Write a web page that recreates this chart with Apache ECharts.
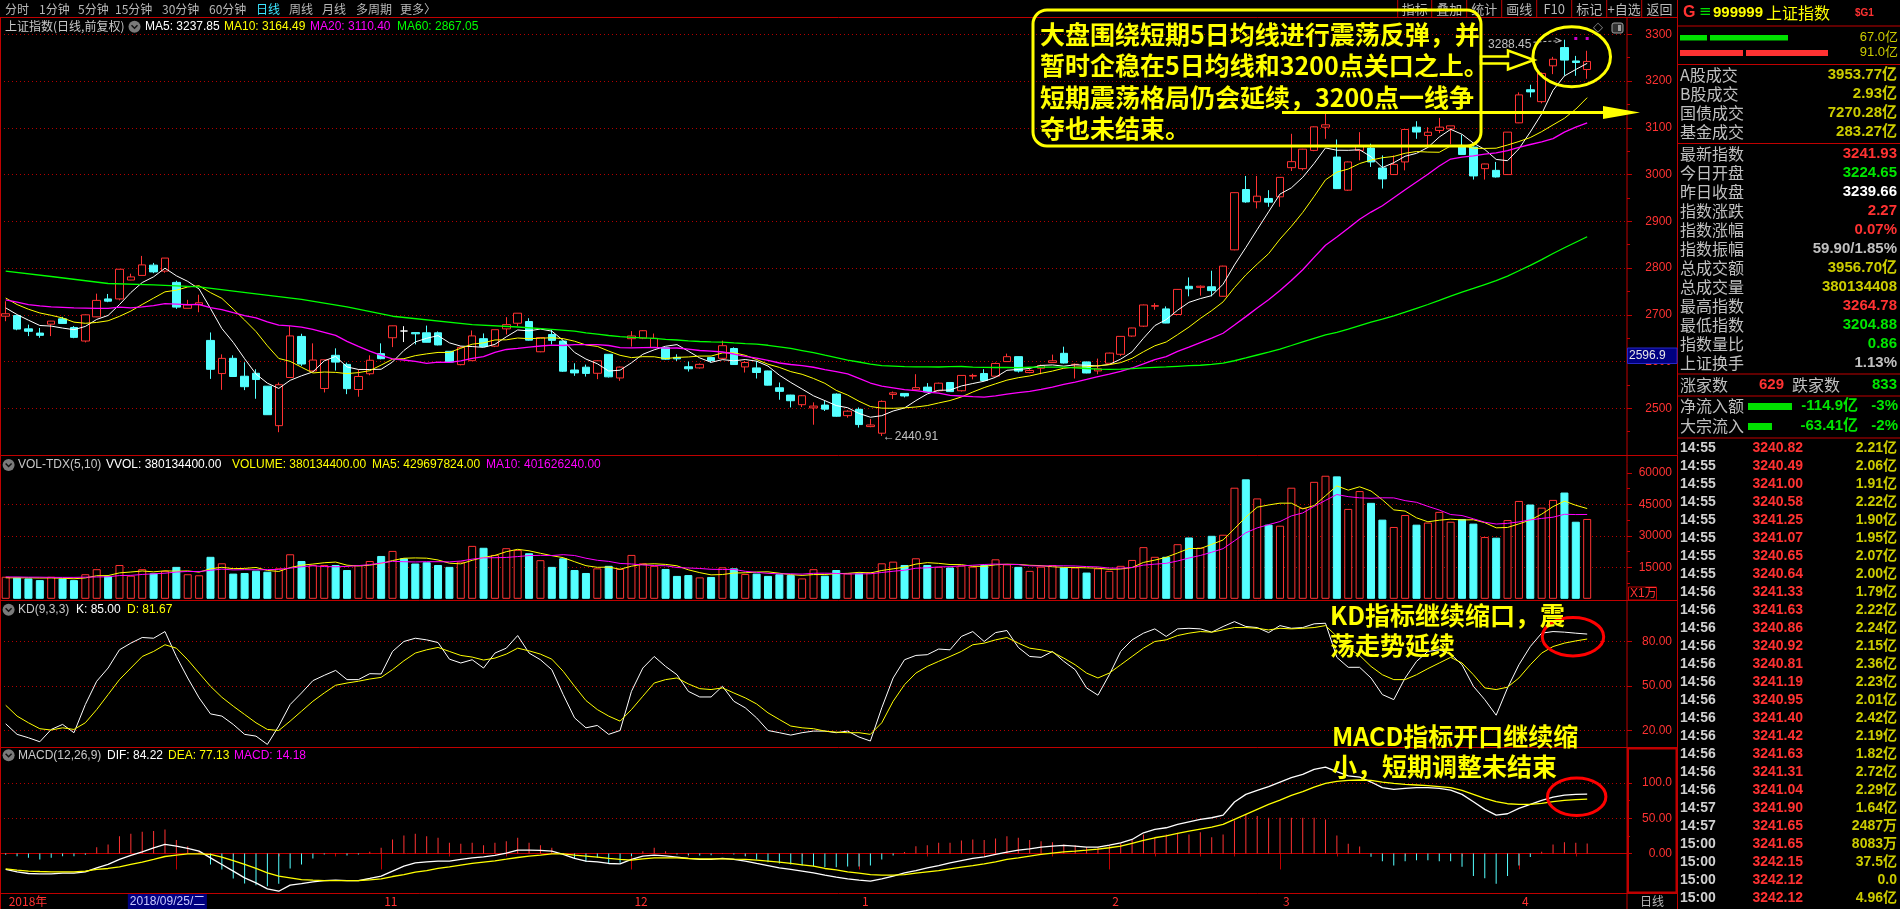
<!DOCTYPE html>
<html lang="zh-CN">
<head>
<meta charset="utf-8">
<title>上证指数 日线</title>
<script src="https://cdn.jsdelivr.net/npm/echarts@6.0.0/dist/echarts.min.js"></script>
<style>
html,body{margin:0;padding:0;background:#000;overflow:hidden;}
#chart{width:1900px;height:909px;}
</style>
</head>
<body>
<div id="chart"></div>
<script>
// ---------- trading days ----------
const dates = [
'2018/09/07','2018/09/10','2018/09/11','2018/09/12','2018/09/13','2018/09/14','2018/09/17','2018/09/18','2018/09/19','2018/09/20','2018/09/21','2018/09/25','2018/09/26','2018/09/27','2018/09/28',
'2018/10/08','2018/10/09','2018/10/10','2018/10/11','2018/10/12','2018/10/15','2018/10/16','2018/10/17','2018/10/18','2018/10/19','2018/10/22','2018/10/23','2018/10/24','2018/10/25','2018/10/26','2018/10/29','2018/10/30','2018/10/31',
'2018/11/01','2018/11/02','2018/11/05','2018/11/06','2018/11/07','2018/11/08','2018/11/09','2018/11/12','2018/11/13','2018/11/14','2018/11/15','2018/11/16','2018/11/19','2018/11/20','2018/11/21','2018/11/22','2018/11/23','2018/11/26','2018/11/27','2018/11/28','2018/11/29','2018/11/30',
'2018/12/03','2018/12/04','2018/12/05','2018/12/06','2018/12/07','2018/12/10','2018/12/11','2018/12/12','2018/12/13','2018/12/14','2018/12/17','2018/12/18','2018/12/19','2018/12/20','2018/12/21','2018/12/24','2018/12/25','2018/12/26','2018/12/27','2018/12/28',
'2019/01/02','2019/01/03','2019/01/04','2019/01/07','2019/01/08','2019/01/09','2019/01/10','2019/01/11','2019/01/14','2019/01/15','2019/01/16','2019/01/17','2019/01/18','2019/01/21','2019/01/22','2019/01/23','2019/01/24','2019/01/25','2019/01/28','2019/01/29','2019/01/30','2019/01/31',
'2019/02/01','2019/02/11','2019/02/12','2019/02/13','2019/02/14','2019/02/15','2019/02/18','2019/02/19','2019/02/20','2019/02/21','2019/02/22','2019/02/25','2019/02/26','2019/02/27','2019/02/28',
'2019/03/01','2019/03/04','2019/03/05','2019/03/06','2019/03/07','2019/03/08','2019/03/11','2019/03/12','2019/03/13','2019/03/14','2019/03/15','2019/03/18','2019/03/19','2019/03/20','2019/03/21','2019/03/22','2019/03/25','2019/03/26','2019/03/27','2019/03/28','2019/03/29',
'2019/04/01','2019/04/02','2019/04/03','2019/04/04','2019/04/08','2019/04/09','2019/04/10'
];
// empty slots kept at the right edge of the price area
const padDays = ['2019/04/11','2019/04/12','2019/04/15'];

// ---------- index OHLC ----------
const openP = [
2697.1,2698.5,2670.0,2661.0,2680.0,2691.4,2673.0,2644.0,2695.7,2734.0,
2734.0,2774.4,2784.3,2806.3,2793.5,2769.4,2714.0,2722.0,2645.3,2574.4,
2607.0,2568.7,2575.0,2547.4,2463.0,2566.0,2653.8,2580.0,2542.5,2613.4,
2594.0,2540.3,2574.0,2617.0,2651.0,2665.4,2662.0,2661.6,2661.6,2622.0,
2593.5,2602.0,2649.0,2633.0,2670.0,2682.0,2685.7,2621.0,2658.0,2644.0,
2582.0,2588.0,2575.0,2615.6,2565.0,2649.0,2650.0,2630.0,2629.8,2609.0,
2589.0,2586.5,2608.5,2607.0,2628.0,2588.6,2586.5,2580.0,2544.0,2528.4,
2507.8,2501.0,2507.0,2530.5,2484.4,2497.9,2461.0,2446.8,2529.8,2531.9,
2539.7,2545.4,2537.6,2555.3,2537.6,2569.0,2574.4,2568.8,2600.0,2610.6,
2576.6,2585.8,2597.9,2617.7,2593.6,2599.3,2580.1,2596.4,2615.6,2654.6,
2675.8,2718.4,2712.7,2700.7,2761.0,2758.8,2760.0,2739.7,2839.0,2968.0,
2941.8,2948.9,2952.4,3014.8,3012.7,3051.7,3101.4,3037.5,2966.6,3051.7,
3056.7,3014.1,3000.0,3027.0,3101.4,3083.6,3094.3,3097.8,3058.8,3058.8,
3012.7,3009.0,3000.0,3110.6,3181.5,3156.0,3232.6,3271.6,3243.0,3224.65
];
const closeP = [
2702.3,2669.5,2664.8,2656.1,2686.6,2681.6,2651.8,2700.0,2730.9,2729.2,
2797.5,2781.1,2806.8,2791.8,2821.4,2716.5,2721.0,2725.8,2583.5,2606.9,
2568.1,2546.3,2561.6,2486.4,2550.5,2654.9,2594.8,2603.3,2603.8,2598.9,
2542.1,2568.1,2602.8,2606.2,2676.5,2665.4,2659.4,2641.3,2635.6,2598.9,
2630.5,2654.9,2632.2,2668.2,2679.1,2703.5,2645.9,2651.5,2645.4,2579.5,
2575.8,2574.7,2601.7,2567.4,2588.2,2654.8,2666.0,2649.8,2605.2,2605.9,
2584.6,2594.1,2602.2,2634.0,2593.7,2598.0,2576.7,2549.6,2536.3,2516.3,
2527.0,2504.8,2498.3,2483.1,2493.9,2465.3,2464.4,2514.9,2533.1,2526.5,
2544.3,2535.1,2553.8,2535.8,2570.4,2570.3,2559.6,2596.0,2610.5,2579.7,
2581.0,2591.7,2601.7,2597.0,2594.3,2575.6,2584.6,2618.2,2653.9,2671.9,
2721.1,2719.7,2682.4,2754.4,2755.7,2761.2,2751.8,2804.2,2961.3,2941.5,
2953.8,2941.0,2994.0,3027.6,3054.3,3102.1,3106.4,2969.9,3027.0,3060.3,
3027.0,2990.7,3021.8,3096.4,3091.0,3090.6,3101.5,3104.2,3043.0,2997.1,
3022.7,2994.9,3090.8,3170.4,3176.8,3216.3,3246.6,3244.8,3239.7,3241.93
];
const lowP = [
2686.4,2667.0,2654.5,2651.0,2654.5,2681.0,2650.0,2641.0,2695.0,2727.0,
2731.0,2774.0,2784.0,2789.0,2790.0,2712.7,2714.0,2705.6,2563.0,2539.6,
2567.0,2539.0,2520.5,2486.0,2449.0,2566.0,2590.7,2578.0,2534.0,2580.8,
2530.4,2524.8,2570.8,2604.9,2631.0,2641.8,2636.8,2641.0,2634.7,2598.0,
2592.0,2602.0,2631.8,2631.0,2658.0,2675.8,2645.0,2620.0,2636.8,2578.0,
2569.5,2568.0,2562.4,2566.0,2558.8,2632.0,2648.0,2630.0,2604.0,2601.4,
2578.7,2585.0,2598.0,2605.0,2593.0,2576.6,2563.8,2549.0,2518.4,2502.0,
2502.8,2465.0,2494.3,2482.0,2480.0,2458.9,2459.6,2440.91,2519.8,2523.4,
2539.0,2535.0,2536.0,2535.0,2536.0,2562.0,2559.0,2567.0,2600.0,2576.6,
2575.0,2573.0,2597.0,2596.0,2563.8,2575.0,2573.0,2596.0,2612.0,2653.0,
2674.0,2711.0,2682.0,2700.0,2739.6,2741.0,2739.6,2739.0,2838.0,2939.7,
2927.6,2931.0,2931.2,3007.7,3009.0,3050.0,3076.5,2969.0,2965.0,3030.4,
3016.3,2970.0,2999.0,3009.0,3076.5,3060.2,3088.6,3064.5,3043.0,2989.3,
2989.3,2993.6,2999.0,3110.0,3165.2,3152.4,3214.8,3211.3,3211.3,3204.88
];
const highP = [
2729.0,2700.0,2679.0,2672.0,2687.0,2695.7,2676.0,2701.0,2745.3,2744.6,
2798.0,2788.0,2826.0,2811.0,2821.4,2772.9,2732.0,2743.0,2662.3,2615.5,
2613.4,2598.5,2583.6,2547.4,2555.2,2675.8,2659.5,2639.0,2604.0,2628.3,
2597.8,2583.6,2613.4,2639.0,2677.0,2675.8,2662.0,2677.0,2664.5,2622.0,
2632.5,2666.6,2660.2,2668.2,2695.0,2703.5,2692.8,2652.4,2668.7,2645.0,
2596.4,2593.6,2602.8,2616.0,2589.4,2665.2,2667.0,2660.0,2630.0,2615.6,
2600.0,2596.0,2609.0,2644.7,2630.5,2601.0,2601.4,2580.5,2555.3,2529.0,
2528.4,2512.8,2516.0,2532.0,2496.0,2502.0,2477.3,2517.0,2536.0,2532.0,
2573.0,2554.0,2555.0,2556.0,2571.0,2574.0,2583.7,2598.0,2617.0,2611.0,
2584.5,2593.6,2614.9,2631.9,2596.0,2600.0,2606.4,2619.0,2654.6,2672.3,
2722.0,2725.0,2718.0,2755.0,2780.0,2763.0,2794.3,2805.0,2962.0,2997.0,
2997.0,2966.6,2994.0,3087.2,3055.0,3103.0,3129.6,3075.1,3028.0,3090.7,
3065.9,3041.0,3041.0,3097.0,3114.1,3101.4,3121.2,3104.2,3085.0,3060.0,
3023.3,3027.0,3091.0,3175.8,3192.1,3218.4,3251.7,3288.45,3253.8,3264.78
];

// ---------- moving averages of the close ----------
const ma5 = [
2714.8,2700.6,2688.6,2677.2,2675.9,2671.7,2668.2,2675.2,2690.2,2698.7,
2721.9,2747.7,2769.1,2781.3,2799.7,2783.5,2771.5,2755.3,2713.6,2670.7,
2641.1,2606.1,2573.3,2553.9,2542.6,2559.9,2569.6,2578.0,2601.5,2611.1,
2588.6,2583.2,2583.1,2583.6,2599.1,2623.8,2642.1,2649.8,2655.6,2640.1,
2633.1,2632.2,2630.4,2636.9,2653.0,2667.6,2665.8,2669.6,2665.1,2645.2,
2619.6,2605.4,2595.4,2579.8,2581.6,2597.4,2615.6,2625.2,2632.8,2636.3,
2622.3,2607.9,2598.4,2604.2,2601.7,2604.4,2600.9,2590.4,2570.9,2555.4,
2541.2,2526.8,2516.5,2505.9,2501.4,2489.1,2481.0,2484.3,2494.3,2500.8,
2516.6,2530.8,2538.6,2539.1,2547.9,2553.1,2558.0,2566.4,2581.4,2583.2,
2585.4,2591.8,2592.9,2590.2,2593.1,2592.1,2590.6,2593.9,2605.3,2620.8,
2649.9,2677.0,2689.8,2709.9,2726.7,2734.7,2741.1,2765.5,2806.8,2844.0,
2882.5,2920.4,2958.3,2971.6,2994.1,3023.8,3056.9,3052.1,3051.9,3053.1,
3038.1,3015.0,3025.4,3039.2,3045.4,3058.1,3080.3,3096.7,3086.1,3067.3,
3053.7,3032.4,3029.7,3055.2,3091.1,3129.8,3180.2,3211.0,3224.8,3237.85
];
const ma10 = [
2736,2722,2712,2704,2699,2693.3,2684.4,2681.9,2683.7,2687.3,
2696.8,2708.0,2722.2,2735.8,2749.2,2752.7,2759.6,2762.2,2747.5,2735.2,
2712.3,2688.8,2664.3,2633.8,2606.7,2600.5,2587.9,2575.7,2577.7,2576.9,
2574.3,2576.4,2580.6,2592.6,2605.1,2606.2,2612.7,2616.5,2619.6,2619.6,
2628.5,2637.2,2640.1,2646.3,2646.6,2650.4,2649.0,2650.0,2651.0,2649.1,
2643.6,2635.6,2632.5,2622.5,2613.4,2608.5,2610.5,2610.3,2606.3,2609.0,
2609.9,2611.8,2611.8,2618.5,2619.0,2613.4,2604.4,2594.4,2587.6,2578.6,
2572.8,2563.9,2553.5,2538.4,2528.4,2515.2,2503.9,2500.4,2500.1,2501.1,
2502.9,2505.9,2511.5,2516.7,2524.4,2534.9,2544.4,2552.5,2560.3,2565.6,
2569.3,2574.9,2579.7,2585.8,2588.2,2588.8,2591.2,2593.4,2597.8,2607.0,
2621.0,2633.8,2641.9,2657.6,2673.8,2692.3,2709.1,2727.7,2758.4,2785.4,
2808.6,2830.8,2861.9,2889.2,2919.1,2953.2,2988.7,3005.2,3011.8,3023.6,
3031.0,3036.0,3038.8,3045.6,3049.3,3048.1,3047.7,3061.1,3062.7,3056.4,
3055.9,3056.4,3063.2,3070.7,3079.2,3091.8,3106.3,3120.4,3140.0,3164.49
];
const ma20 = [
2732,2727,2722,2719,2717,2716,2715,2714.5,2714,2714,
2716.4,2715.0,2717.1,2719.9,2724.1,2723.0,2722.0,2722.1,2715.6,2711.3,
2704.6,2698.4,2693.3,2684.8,2678.0,2676.6,2673.8,2669.0,2662.6,2656.1,
2643.3,2632.6,2622.5,2613.2,2605.9,2603.4,2600.3,2596.1,2598.7,2598.3,
2601.4,2606.8,2610.4,2619.5,2625.9,2628.3,2630.9,2633.3,2635.3,2634.4,
2636.1,2636.4,2636.3,2634.4,2630.0,2629.5,2629.8,2630.2,2628.7,2629.1,
2626.8,2623.7,2622.2,2620.5,2616.2,2611.0,2607.5,2602.4,2597.0,2593.8,
2591.4,2587.9,2582.7,2578.5,2573.7,2564.3,2554.2,2547.4,2543.9,2539.9,
2537.9,2534.9,2532.5,2527.6,2526.4,2525.1,2524.2,2526.5,2530.2,2533.4,
2536.1,2540.4,2545.6,2551.3,2556.3,2561.9,2567.8,2573.0,2579.1,2586.3,
2595.2,2604.4,2610.8,2621.7,2631.0,2640.6,2650.2,2660.6,2678.1,2696.2,
2714.8,2732.3,2751.9,2773.4,2796.5,2822.8,2848.9,2866.5,2885.1,2904.5,
2919.8,2933.4,2950.4,2967.4,2984.2,3000.7,3018.2,3033.2,3037.3,3040.0,
3043.5,3046.2,3051.0,3058.2,3064.3,3070.0,3077.0,3090.8,3101.4,3110.40
];
const ma60 = [
2793.5,null,null,null,2782,null,null,null,null,2767,
null,null,null,2764,null,null,null,2760,null,null,
null,null,2745,null,null,null,2733,null,null,null,
2717,null,null,null,2697,null,null,null,null,null,
null,2679,null,null,null,2674,null,null,2669,null,
2665.3,2661.3,2658.6,2655.8,2653.3,2652.0,2650.7,2649.5,2647.7,2646.2,
2644.3,2643.0,2642.0,2641.6,2640.0,2638.6,2637.4,2634.9,2631.6,2628.1,
2623.6,2619.0,2613.8,2608.7,2603.2,2599.1,2594.8,2591.2,2590.4,2589.1,
2588.7,2588.5,2588.4,2589.2,2589.5,2588.1,2587.5,2587.4,2587.5,2587.2,
2587.9,2588.2,2588.2,2588.1,2586.7,2585.2,2583.9,2583.5,2583.9,2585.1,
2586.6,2587.7,2588.5,2589.9,2591.2,2592.2,2594.0,2596.5,2601.8,2607.8,
2614.1,2620.2,2626.7,2634.4,2642.2,2649.7,2657.0,2662.3,2669.4,2676.9,
2684.3,2690.9,2697.9,2705.6,2713.9,2722.1,2730.9,2740.1,2748.5,2756.5,
2764.8,2773.0,2782.8,2794.3,2805.7,2818.2,2831.2,2843.4,2855.2,2867.05
];
// days carrying the small magenta signal marks
const signalDays = [138, 139];

// ---------- volume (x 10,000 shares) ----------
const vol = [
10500,10100,9700,8900,10500,9700,8900,11700,14100,10900,
16100,11000,14100,12100,13300,15200,11700,11200,20000,16900,
12000,12300,13400,12900,14500,21200,18000,16100,16100,16100,
13700,16100,18000,20400,22800,19300,16800,17400,16100,15200,
17700,25200,24300,20900,24100,23300,21700,18400,15200,19300,
13700,12300,14500,15700,14200,20900,16900,15700,14200,10900,
11300,10200,10400,15000,14500,11800,12000,10900,11700,11300,
9700,14100,11000,13700,12100,12100,12600,16900,17700,16100,
19300,16100,15200,14900,15800,15300,16100,18800,16400,15200,
13300,15300,16100,14900,14900,12500,14500,13300,15700,18500,
24600,20000,20000,26000,29200,24400,30000,30500,52900,56900,
47800,35300,34800,52900,43300,55700,58600,58300,42800,51300,
45700,37700,34200,39900,35300,36300,41400,36700,38000,35800,
29400,29100,37500,46600,44900,43400,47100,50600,36700,38013.44
];
const vma5 = [
10000,10000,10000,9900,9940,9780,9540,9940,10980,11060,
12340,12760,13240,12840,13320,13140,13280,12700,14280,15000,
14360,14480,14920,13500,13020,14860,16000,16540,17180,17500,
16000,15620,16000,16860,18200,19320,19460,19340,18480,16960,
16640,18320,19700,20660,22440,23560,22860,21680,20540,19580,
17660,15780,15000,15100,14080,15520,16440,16680,16380,15720,
13800,12460,11400,11560,12280,12380,12740,12840,12180,11540,
11120,11540,11560,11960,12120,12600,12300,13480,14280,15080,
16520,17220,16880,16320,16260,15460,15460,16180,16480,16360,
15960,15800,15260,14960,14900,14740,14580,14020,14180,14900,
17320,18420,19760,21820,23960,23920,25920,28020,33400,38940,
43620,44680,45540,45540,42820,44400,49060,53760,51740,53340,
51340,47160,42340,41760,38560,36680,37420,37920,37540,37640,
36260,33800,33960,35680,37500,40300,43900,46520,44540,42969.7824
];
const vma10 = [
10400,10400,10300,10300,10200,10200,10200,10300,10400,10500,
11060,11150,11590,11910,12190,12740,13020,12970,13560,14160,
13750,13880,13810,13890,14010,14610,15240,15730,15340,15260,
15430,15810,16270,17020,17850,17660,17540,17670,17670,17580,
17980,18890,19520,19570,19700,20100,20590,20690,20600,21010,
20610,19320,18340,17820,16830,16590,16110,15840,15740,14900,
14660,14450,14040,13970,14000,13090,12600,12120,11870,11910,
11750,12140,12200,12070,11830,11860,11920,12520,13120,13600,
14560,14760,15180,15300,15670,15990,16340,16530,16400,16310,
15710,15630,15720,15720,15630,15350,15190,14640,14570,14900,
16030,16500,16890,18000,19430,20620,22170,23890,27610,31450,
33770,35300,36780,39470,40880,44010,46870,49650,48640,48080,
47870,48110,48050,46750,45950,44010,42290,40130,39650,38100,
36470,35610,35940,36610,37570,38280,38850,40240,40110,40162.624
];

// ---------- KD(9,3,3) ----------
const kLine = [
24.5,17.4,15.1,12.4,20.7,24.1,18.5,37.5,53.2,62.1,
74.4,78.9,82.7,82.2,86.7,69.9,55.4,42.0,31.2,29.7,
24.1,17.4,16.2,10.6,23.0,37.5,45.3,53.6,57.2,60.5,
54.3,54.3,58.3,58.1,73.3,80.0,82.2,81.1,79.3,68.1,
65.5,67.7,62.1,72.2,75.5,84.0,72.2,67.7,61.0,44.2,
28.5,21.8,23.4,17.4,20.0,46.4,62.1,69.9,63.2,57.6,
46.4,42.6,42.6,49.8,39.7,35.3,28.5,20.0,18.5,16.9,
18.5,19.6,19.6,18.5,19.6,15.6,12.9,35.3,55.4,67.7,
70.6,71.1,74.9,74.4,83.4,86.7,80.0,86.0,87.4,76.0,
69.9,69.3,73.3,66.6,61.0,48.7,43.8,57.6,73.3,81.1,
85.6,88.5,83.4,88.5,88.9,88.5,86.3,90.1,93.4,90.1,
89.4,86.0,90.7,88.9,89.4,91.9,92.3,69.3,62.6,62.6,
55.4,44.2,40.8,55.4,66.6,73.3,74.4,71.5,64.3,49.8,
40.8,30.3,48.7,64.3,76.6,85.6,86.7,86.3,85.6,85.00
];
const dLine = [
37.0,29.7,25.2,21.2,20.3,21.8,20.7,25.2,34.1,44.2,
54.3,62.1,69.9,73.3,77.8,75.5,67.7,58.7,49.8,42.4,
36.4,30.8,25.2,20.7,20.0,26.3,33.0,39.7,45.3,50.5,
52.0,53.2,54.7,55.8,61.0,67.0,72.2,74.4,76.0,73.3,
70.6,69.5,67.5,68.8,71.5,75.5,73.7,71.5,68.1,59.9,
49.8,40.2,34.1,29.7,26.3,34.1,43.1,52.0,54.3,55.4,
51.4,48.2,47.6,48.7,45.3,42.0,37.9,31.9,27.4,23.0,
21.8,21.2,19.6,18.9,18.5,18.5,17.4,25.2,39.7,50.9,
58.7,63.2,66.6,69.9,73.3,77.8,78.9,81.1,82.7,78.9,
75.5,74.4,72.8,68.8,64.3,58.7,55.4,58.7,64.3,69.9,
75.5,80.0,81.1,84.0,85.6,86.7,86.3,87.8,89.4,89.4,
88.9,87.8,88.9,88.5,88.9,89.4,90.7,83.4,75.5,70.6,
63.2,57.6,54.3,54.3,57.6,61.7,65.5,69.3,65.5,57.6,
48.7,47.6,49.2,55.4,64.3,72.2,76.6,78.9,80.4,81.67
];

// ---------- MACD(12,26,9) ----------
const dif = [
-22.7,-26.0,-28.4,-28.9,-28.9,-28.0,-28.0,-26.0,-20.4,-15.6,
-8.5,-2.8,2.4,8.1,12.8,10.4,7.1,3.3,-6.2,-15.6,
-25.1,-34.6,-41.7,-50.2,-53.6,-45.0,-42.7,-40.3,-38.4,-37.9,
-38.4,-38.4,-35.5,-32.2,-25.1,-18.0,-13.3,-11.8,-10.9,-10.9,
-8.5,-6.2,-4.7,-2.8,0.5,4.7,4.7,4.3,3.3,-1.4,
-7.1,-10.9,-11.8,-14.2,-14.7,-8.5,-3.8,-2.4,-3.3,-5.2,
-7.1,-8.5,-8.5,-7.1,-8.5,-10.9,-14.2,-17.1,-20.4,-22.7,
-25.1,-27.5,-30.8,-33.6,-36.0,-37.9,-39.3,-36.0,-32.2,-27.5,
-24.2,-20.4,-17.1,-13.3,-10.0,-7.1,-4.7,-1.4,1.9,4.7,
6.6,9.0,10.4,11.4,10.4,9.0,9.0,11.8,15.2,19.9,
29.4,34.1,36.5,41.2,45.0,48.3,50.7,54.5,73.0,83.9,
89.6,94.8,101.4,107.6,112.3,119.4,122.7,116.1,110.0,108.5,
101.4,93.4,91.0,92.4,93.4,93.4,92.4,90.0,83.9,73.5,
62.6,54.5,56.4,64.0,69.7,75.4,80.1,82.9,83.9,84.22
];
const dea = [
-21.8,-23.5,-25.1,-25.6,-26.0,-26.0,-26.0,-25.1,-22.7,-21.3,
-19.0,-15.6,-12.3,-8.5,-4.3,-2.4,-0.5,-0.5,-1.4,-5.2,
-10.0,-15.6,-21.3,-27.5,-32.2,-34.6,-37.0,-37.9,-38.4,-38.4,
-38.4,-38.4,-37.4,-36.0,-32.7,-29.9,-26.5,-24.2,-21.3,-19.0,
-16.6,-14.2,-12.3,-10.4,-8.1,-5.7,-3.8,-2.4,-0.5,-0.5,
-2.4,-3.8,-5.2,-7.1,-8.5,-9.5,-7.6,-6.2,-6.2,-6.2,
-7.1,-7.6,-7.6,-7.6,-8.1,-8.5,-9.5,-10.9,-12.3,-14.2,
-16.1,-18.0,-21.3,-23.2,-26.1,-28.0,-29.9,-30.8,-30.8,-29.9,
-28.0,-26.1,-24.2,-21.8,-19.4,-17.1,-14.7,-11.8,-8.5,-6.2,
-3.8,-1.4,0.5,2.4,3.3,4.7,6.2,8.1,10.4,14.2,
18.5,22.3,25.1,28.4,31.8,34.6,37.4,41.2,48.3,55.5,
62.6,69.7,75.8,82.5,87.7,94.3,99.5,102.4,103.8,104.3,
103.8,101.4,99.5,98.1,97.2,96.2,94.8,93.4,89.6,83.9,
78.2,73.5,70.6,69.7,69.7,71.1,73.5,75.4,76.3,77.13
];
const macd = [
-1.8,-3.8,-6.0,-8.5,-6.0,-3.8,-3.8,-1.8,9.0,12.8,
24.6,28.0,30.8,31.8,34.1,19.0,10.4,3.3,-15.6,-22.7,
-35.5,-42.7,-45.0,-46.4,-43.1,-21.3,-15.6,-7.1,-1.4,0.8,
-2.8,-1.4,2.4,8.1,19.9,25.6,28.0,24.6,22.3,15.2,
13.7,15.2,11.8,15.2,17.5,22.3,15.2,11.8,8.1,-1.4,
-7.1,-11.8,-6.2,-14.7,-13.3,-3.8,3.3,8.1,3.3,-1.4,
-2.4,-2.8,-2.4,0.5,-1.4,-3.8,-8.5,-12.3,-14.2,-15.6,
-17.0,-18.0,-19.4,-19.4,-18.5,-18.5,-17.0,-8.5,-2.8,2.0,
10.4,11.8,15.2,15.2,18.5,19.9,19.0,21.3,24.6,22.3,
19.0,17.5,16.1,12.8,11.8,9.0,9.0,11.8,14.2,19.0,
27.0,23.2,27.0,29.4,27.0,30.3,23.2,27.0,46.9,55.5,
53.1,50.7,50.7,50.7,50.7,50.7,48.3,25.6,13.7,10.0,
-4.8,-11.0,-17.0,-11.0,-9.5,-9.5,-11.0,-11.0,-19.0,-32.0,
-35.0,-43.0,-32.0,-17.0,-5.0,2.4,12.8,16.1,15.2,14.18
];

// ---------- axis tick values ----------
const volTickValues = [15000, 30000, 45000, 60000];
const volMinorTicks = [7500, 22500, 37500, 52500];
const kdTickValues = [20, 50, 80];
const macdTickValues = [0, 50, 100];
const macdMinorTicks = [25, 75];

// ---------- quote panel ----------
const turnoverRows = [['A股成交', '3953.77亿'], ['B股成交', '2.93亿'], ['国债成交', '7270.28亿'], ['基金成交', '283.27亿']];
const tickTimes = ['14:55','14:55','14:55','14:55','14:55','14:55','14:55','14:55','14:56','14:56','14:56','14:56','14:56','14:56','14:56','14:56','14:56','14:56','14:56','14:56','14:57','14:57','15:00','15:00','15:00','15:00'];
const tickPrices = ['3240.82','3240.49','3241.00','3240.58','3241.25','3241.07','3240.65','3240.64','3241.33','3241.63','3240.86','3240.92','3240.81','3241.19','3240.95','3241.40','3241.42','3241.63','3241.31','3241.04','3241.90','3241.65','3241.65','3242.15','3242.12','3242.12'];
const tickAmounts = ['2.21亿','2.06亿','1.91亿','2.22亿','1.90亿','1.95亿','2.07亿','2.00亿','1.79亿','2.22亿','2.24亿','2.15亿','2.36亿','2.23亿','2.01亿','2.42亿','2.19亿','1.82亿','2.72亿','2.29亿','1.64亿','2487万','8083万','37.5亿','0.0','4.96亿'];

// ================= drawing =================
const N = dates.length;
const cats = dates.concat(padDays);
const RED = '#ff3232', CYAN = '#54ffff', GREEN = '#00e600', YEL = '#ffff00', OLIVE = '#cccc00',
      GRAY = '#c0c0c0', FRAME = '#c00000', DOT = '#b40000', MAG = '#ff00ff';
const NUM = '"Liberation Sans", "DejaVu Sans", "Noto Sans CJK SC", sans-serif';
const CN = '"Noto Sans CJK SC", "Noto Sans", sans-serif';

const isDoji = i => openP[i] === closeP[i];
const isUp = i => closeP[i] > openP[i] || (isDoji(i) && (i === 0 || closeP[i] >= closeP[i - 1]));

const kData = dates.map((d, i) => {
  const item = { value: [openP[i], closeP[i], lowP[i], highP[i]] };
  if (isDoji(i)) item.itemStyle = { color: '#fff', color0: '#fff', borderColor: '#fff', borderColor0: '#fff' };
  return item;
});
const volData = vol.map((v, i) => ({
  value: v,
  itemStyle: isUp(i) ? { color: '#000', borderColor: RED, borderWidth: 1 } : { color: CYAN, borderColor: CYAN, borderWidth: 1 }
}));
const macdData = macd.map(v => ({ value: v, itemStyle: { color: v >= 0 ? RED : CYAN } }));

// month boundaries and the quarter-month ticks on the date axis
const monthStarts = [];
for (let i = 1; i < N; i++) if (dates[i].slice(5, 7) !== dates[i - 1].slice(5, 7)) monthStarts.push(i);
const monthSet = new Set(monthStarts);
const quarterSet = new Set();
monthStarts.forEach((s, k) => {
  const e = monthStarts[k + 1];
  if (e !== undefined) { for (let q = 1; q < 4; q++) quarterSet.add(s + Math.round(q * (e - s) / 4)); }
  else { for (let j = s + 5; j < N; j += 5) quarterSet.add(j); }
});

const panels = [
  { top: 34.3, height: 420.8 },
  { top: 455.5, height: 143.3 },
  { top: 601, height: 146 },
  { top: 748, height: 145 }
];
const dotted = { show: true, lineStyle: { color: DOT, type: [1, 3], width: 1 } };
const plain = v => String(Math.round(v));
const axisLab = { color: RED, fontSize: 12, fontFamily: NUM, align: 'right', margin: 45, hideOverlap: false };
const tickLine = { color: FRAME, width: 1 };
const hiddenX = gi => ({ type: 'category', gridIndex: gi, data: cats, boundaryGap: true, show: false });

const lineS = (xi, yi, data, color, width, extra) => Object.assign({
  type: 'line', xAxisIndex: xi, yAxisIndex: yi, data, symbol: 'none', showSymbol: false,
  lineStyle: { color, width: width || 1 }, itemStyle: { color }, silent: true, z: 3
}, extra || {});

const chart = echarts.init(document.getElementById('chart'), null, { renderer: 'canvas', width: 1900, height: 909 });

chart.setOption({
  backgroundColor: '#000',
  animation: false,
  textStyle: { fontFamily: NUM },
  grid: panels.map(p => ({ left: 0, width: 1627, top: p.top, height: p.height, containLabel: false, outerBoundsMode: 'none' })),
  xAxis: [
    hiddenX(0), hiddenX(1), hiddenX(2),
    {
      type: 'category', gridIndex: 3, data: cats, boundaryGap: true, position: 'bottom',
      axisLine: { show: true, lineStyle: { color: FRAME, width: 1 } },
      axisTick: { show: true, alignWithLabel: true, length: 16, interval: i => monthSet.has(i), lineStyle: tickLine },
      axisLabel: {
        show: true, interval: i => i === 0 || monthSet.has(i),
        formatter: (v, i) => i === 0 ? v.slice(0, 4) + '年' : String(parseInt(v.slice(5, 7), 10)),
        color: RED, fontSize: 12, fontFamily: CN, align: 'left', margin: 2, padding: [0, 0, 0, 3], hideOverlap: false
      },
      splitLine: { show: false }
    },
    {
      type: 'category', gridIndex: 3, data: cats, boundaryGap: true, position: 'bottom',
      axisLine: { show: false }, axisLabel: { show: false }, splitLine: { show: false },
      axisTick: { show: true, alignWithLabel: true, length: 3, interval: i => quarterSet.has(i), lineStyle: tickLine }
    }
  ],
  yAxis: [
    {
      type: 'value', gridIndex: 0, position: 'right', min: 2400, max: 3300, interval: 100,
      axisLine: { show: false },
      axisTick: { show: true, length: 5, lineStyle: tickLine },
      minorTick: { show: true, splitNumber: 2, length: 3, lineStyle: tickLine },
      minorSplitLine: { show: false },
      axisLabel: Object.assign({}, axisLab, { showMinLabel: false, formatter: plain }),
      splitLine: dotted
    },
    {
      type: 'value', gridIndex: 1, position: 'right', min: 0, max: 68238,
      axisLine: { show: false },
      axisTick: { show: true, length: 5, customValues: volTickValues, lineStyle: tickLine },
      axisLabel: Object.assign({}, axisLab, { customValues: volTickValues, formatter: plain }),
      splitLine: { show: false }
    },
    {
      type: 'value', gridIndex: 1, position: 'right', min: 0, max: 68238,
      axisLine: { show: false }, axisLabel: { show: false }, splitLine: { show: false },
      axisTick: { show: true, length: 3, customValues: volMinorTicks, lineStyle: tickLine }
    },
    {
      type: 'value', gridIndex: 2, position: 'right', min: 8.87, max: 107.3,
      axisLine: { show: false },
      axisTick: { show: true, length: 5, customValues: kdTickValues, lineStyle: tickLine },
      axisLabel: Object.assign({}, axisLab, { customValues: kdTickValues, formatter: v => Number(v).toFixed(2) }),
      splitLine: dotted
    },
    {
      type: 'value', gridIndex: 3, position: 'right', min: -56.1, max: 149.7,
      axisLine: { show: false },
      axisTick: { show: true, length: 5, customValues: macdTickValues, lineStyle: tickLine },
      axisLabel: Object.assign({}, axisLab, { customValues: macdTickValues, formatter: v => (v >= 100 ? Number(v).toFixed(1) : Number(v).toFixed(2)) }),
      splitLine: dotted
    },
    {
      type: 'value', gridIndex: 3, position: 'right', min: -56.1, max: 149.7,
      axisLine: { show: false }, axisLabel: { show: false }, splitLine: { show: false },
      axisTick: { show: true, length: 3, customValues: macdMinorTicks, lineStyle: tickLine }
    }
  ],
  series: [
    {
      type: 'candlestick', xAxisIndex: 0, yAxisIndex: 0, data: kData, barWidth: 8, silent: true, z: 2,
      itemStyle: { color: '#000', color0: CYAN, borderColor: RED, borderColor0: CYAN, borderColorDoji: '#fff', borderWidth: 1 }
    },
    lineS(0, 0, ma5, '#ffffff', 1),
    lineS(0, 0, ma10, '#ffff00', 1),
    lineS(0, 0, ma20, '#ff00ff', 1.3),
    lineS(0, 0, ma60, '#00ff00', 1.3, { connectNulls: true }),
    {
      type: 'scatter', xAxisIndex: 0, yAxisIndex: 0, data: signalDays.map(i => [i, 3291]),
      symbol: 'rect', symbolSize: 3, itemStyle: { color: MAG }, silent: true, z: 4
    },
    {
      type: 'bar', xAxisIndex: 1, yAxisIndex: 1, data: volData, barWidth: 8, silent: true, z: 2,
      markLine: {
        silent: true, z: 1, symbol: ['none', 'none'], label: { show: false }, animation: false,
        lineStyle: { color: DOT, type: [1, 3], width: 1 },
        emphasis: { disabled: true },
        data: volTickValues.slice(0, 3).map(v => ({ yAxis: v }))
      }
    },
    lineS(1, 1, vma5, '#ffff00', 1),
    lineS(1, 1, vma10, '#ff00ff', 1),
    lineS(2, 3, kLine, '#ffffff', 1),
    lineS(2, 3, dLine, '#ffff00', 1),
    { type: 'bar', xAxisIndex: 3, yAxisIndex: 4, data: macdData, barWidth: 1, silent: true, z: 2 },
    lineS(3, 4, dif, '#ffffff', 1.3),
    lineS(3, 4, dea, '#ffff00', 1.3)
  ]
});

// ================= overlay: frames, titles, quote panel, notes =================
const els = [];
function T(x, y, text, fill, size, o) {
  o = o || {};
  const align = o.align || 'left', va = o.va || 'middle';
  els.push({
    type: 'text', silent: true, z: o.z || 60,
    style: { x, y, text, fill, font: (o.bold ? 'bold ' : '') + size + 'px ' + (o.font || NUM),
             textAlign: align, textVerticalAlign: va, align, verticalAlign: va }
  });
}
function Ln(x1, y1, x2, y2, stroke, w, o) {
  o = o || {};
  const style = { stroke, lineWidth: w || 1 };
  if (o.dash) style.lineDash = o.dash;
  els.push({ type: 'line', silent: true, z: o.z || 55, shape: { x1, y1, x2, y2 }, style });
}
function Rc(x, y, width, height, style, r, z) {
  els.push({ type: 'rect', silent: true, z: z || 55, shape: { x, y, width, height, r: r || 0 }, style });
}
function icon(cx, cy) {
  els.push({ type: 'circle', silent: true, z: 60, shape: { cx, cy, r: 6 }, style: { fill: '#7a7a7a' } });
  els.push({ type: 'polyline', silent: true, z: 61, shape: { points: [[cx - 3, cy - 1.5], [cx, cy + 1.5], [cx + 3, cy - 1.5]] }, style: { stroke: '#111', lineWidth: 1.5, fill: 'none' } });
}

// top tool bar
[['分时', 5], ['1分钟', 39], ['5分钟', 78], ['15分钟', 115], ['30分钟', 162], ['60分钟', 209], ['日线', 256],
 ['周线', 289], ['月线', 322], ['多周期', 356], ['更多〉', 400]].forEach(([t, x]) =>
  T(x, 9, t, t === '日线' ? '#3ce6ff' : '#b8b8b8', 12, { font: CN }));
const btnEdges = [1397.7, 1431.7, 1466.7, 1501.7, 1536.7, 1571.7, 1606.7, 1641.7, 1677.3];
const btnLabels = ['指标', '叠加', '统计', '画线', 'F10', '标记', '+自选', '返回'];
btnLabels.forEach((t, k) => {
  Ln(btnEdges[k], 0, btnEdges[k], 17.5, FRAME);
  T((btnEdges[k] + btnEdges[k + 1]) / 2, 9, t, '#b8b8b8', 13, { font: CN, align: 'center' });
});

// panel frames
Ln(0, 17.5, 1677, 17.5, FRAME);
[455.5, 600.5, 747.5, 893.5].forEach(y => Ln(0, y, 1677, y, FRAME));
Ln(0.5, 17.5, 0.5, 909, FRAME);
Ln(1627, 17.5, 1627, 909, FRAME);
Ln(1677.5, 0, 1677.5, 909, FRAME);
[26, 64.5, 143.5, 374, 396, 438].forEach(y => Ln(1677, y, 1900, y, FRAME));
Rc(1628.5, 587, 28, 13, { fill: 'none', stroke: FRAME, lineWidth: 1 });
T(1630, 594, 'X1万', RED, 12);
Rc(1628, 748.5, 48.5, 144, { fill: 'none', stroke: FRAME, lineWidth: 2 });

// panel titles
T(5, 26.7, '上证指数(日线,前复权)', '#c8c8c8', 12, { font: CN });
icon(134.5, 26.7);
T(145, 26.7, 'MA5: ' + ma5[N - 1].toFixed(2), '#ffffff', 12);
T(224, 26.7, 'MA10: ' + ma10[N - 1].toFixed(2), '#ffff00', 12);
T(310, 26.7, 'MA20: ' + ma20[N - 1].toFixed(2), '#ff00ff', 12);
T(397, 26.7, 'MA60: ' + ma60[N - 1].toFixed(2), '#00ff00', 12);

icon(8.6, 465);
T(18, 465, 'VOL-TDX(5,10)', '#c8c8c8', 12);
T(106, 465, 'VVOL: ' + (vol[N - 1] * 1e4).toFixed(2), '#ffffff', 12);
T(232, 465, 'VOLUME: ' + (vol[N - 1] * 1e4).toFixed(2), '#ffff00', 12);
T(372, 465, 'MA5: ' + (vma5[N - 1] * 1e4).toFixed(2), '#ffff00', 12);
T(486, 465, 'MA10: ' + (vma10[N - 1] * 1e4).toFixed(2), '#ff00ff', 12);

icon(8.6, 609.7);
T(18, 609.7, 'KD(9,3,3)', '#c8c8c8', 12);
T(76, 609.7, 'K: ' + kLine[N - 1].toFixed(2), '#ffffff', 12);
T(127, 609.7, 'D: ' + dLine[N - 1].toFixed(2), '#ffff00', 12);

icon(8.6, 755.3);
T(18, 755.3, 'MACD(12,26,9)', '#c8c8c8', 12);
T(107, 755.3, 'DIF: ' + dif[N - 1].toFixed(2), '#ffffff', 12);
T(168, 755.3, 'DEA: ' + dea[N - 1].toFixed(2), '#ffff00', 12);
T(234, 755.3, 'MACD: ' + macd[N - 1].toFixed(2), '#ff00ff', 12);

// small tool icons in the price panel corner
T(1598, 28, '◇', '#909090', 13, { font: '"DejaVu Sans"', align: 'center' });
Rc(1612, 23, 11, 10, { fill: '#303030', stroke: '#a0a0a0', lineWidth: 1 }, 2, 60);
Rc(1618, 25, 3, 6, { fill: '#a0a0a0' }, 0, 61);

// price cursor box on the axis
Rc(1627.5, 348, 49.5, 15.5, { fill: '#000080', stroke: '#2828c8', lineWidth: 1 }, 0, 62);
T(1629, 356, '2596.9', '#e8e8e8', 12, { z: 63 });
T(1640, 901.5, '日线', '#b8b8b8', 12, { font: CN });

// quote panel
T(1683, 12.5, 'G', '#ff3232', 16, { bold: true });
T(1699, 12.5, '≡', '#00e000', 15, { font: '"DejaVu Sans"' });
T(1713, 12.5, '999999', '#ffff00', 15, { bold: true });
T(1766, 12.5, '上证指数', '#ffff00', 16, { font: CN });
T(1855, 13.5, '$G1', '#ff3232', 10, { bold: true });
Rc(1680, 35, 27, 5.5, { fill: '#00e000' });
Rc(1710, 35, 78, 5.5, { fill: '#00e000' });
T(1898, 37.5, '67.0亿', OLIVE, 13, { align: 'right' });
Rc(1680, 50, 63, 6, { fill: RED });
Rc(1746, 50, 82, 6, { fill: RED });
T(1898, 52.5, '91.0亿', OLIVE, 13, { align: 'right' });
turnoverRows.forEach(([lab, val], k) => {
  const y = 75 + k * 19.1;
  T(1680, y, lab, GRAY, 16, { font: CN });
  T(1897, y, val, OLIVE, 15, { bold: true, align: 'right' });
});
const last = N - 1;
const quoteRows = [
  ['最新指数', closeP[last].toFixed(2), RED],
  ['今日开盘', openP[last].toFixed(2), GREEN],
  ['昨日收盘', '3239.66', '#ffffff'],
  ['指数涨跌', '2.27', RED],
  ['指数涨幅', '0.07%', RED],
  ['指数振幅', '59.90/1.85%', GRAY],
  ['总成交额', '3956.70亿', OLIVE],
  ['总成交量', '380134408', OLIVE],
  ['最高指数', highP[last].toFixed(2), RED],
  ['最低指数', lowP[last].toFixed(2), GREEN],
  ['指数量比', '0.86', GREEN],
  ['上证换手', '1.13%', GRAY]
];
quoteRows.forEach(([lab, val, col], k) => {
  const y = 154 + k * 19;
  T(1680, y, lab, GRAY, 16, { font: CN });
  T(1897, y, val, col, 15, { bold: true, align: 'right' });
});
T(1680, 385, '涨家数', GRAY, 16, { font: CN });
T(1784, 385, '629', RED, 15, { bold: true, align: 'right' });
T(1792, 385, '跌家数', GRAY, 16, { font: CN });
T(1897, 385, '833', GREEN, 15, { bold: true, align: 'right' });
T(1680, 406, '净流入额', GRAY, 16, { font: CN });
Rc(1748, 403, 44, 7, { fill: '#00e000' });
T(1858, 406, '-114.9亿', GREEN, 15, { bold: true, align: 'right' });
T(1898, 406, '-3%', GREEN, 15, { bold: true, align: 'right' });
T(1680, 426, '大宗流入', GRAY, 16, { font: CN });
Rc(1748, 423, 24, 7, { fill: '#00e000' });
T(1858, 426, '-63.41亿', GREEN, 15, { bold: true, align: 'right' });
T(1898, 426, '-2%', GREEN, 15, { bold: true, align: 'right' });
tickTimes.forEach((t, k) => {
  const y = 448 + k * 18;
  T(1680, y, t, '#d0d0d0', 14, { bold: true });
  T(1803, y, tickPrices[k], RED, 14, { bold: true, align: 'right' });
  T(1897, y, tickAmounts[k], OLIVE, 14, { bold: true, align: 'right' });
});

// highest / lowest markers, taken from the bars themselves
let hiIdx = 0, loIdx = 0;
for (let i = 1; i < N; i++) { if (highP[i] > highP[hiIdx]) hiIdx = i; if (lowP[i] < lowP[loIdx]) loIdx = i; }
const pHi = chart.convertToPixel({ xAxisIndex: 0, yAxisIndex: 0 }, [hiIdx, highP[hiIdx]]);
const pLo = chart.convertToPixel({ xAxisIndex: 0, yAxisIndex: 0 }, [loIdx, lowP[loIdx]]);
T(pHi[0] - 33, pHi[1] + 4.5, highP[hiIdx].toFixed(2), GRAY, 12, { align: 'right' });
Ln(pHi[0] - 31, pHi[1] + 2.5, pHi[0] - 4, pHi[1] + 1, GRAY, 1, { dash: [3, 2], z: 60 });
els.push({ type: 'polyline', silent: true, z: 60, shape: { points: [[pHi[0] - 9, pHi[1] - 1.5], [pHi[0] - 3, pHi[1] + 1], [pHi[0] - 9, pHi[1] + 3]] }, style: { stroke: GRAY, lineWidth: 1, fill: 'none' } });
T(pLo[0] + 1, pLo[1] + 1, '←' + lowP[loIdx].toFixed(2), GRAY, 12);

// date cursor box on the time axis
const xCur = chart.convertToPixel({ xAxisIndex: 3, yAxisIndex: 4 }, [11, 0])[0];
Rc(xCur - 3, 894, 79, 15, { fill: '#000080' }, 0, 62);
T(xCur - 1, 901.5, dates[11] + '/二', '#c8c8ff', 12, { z: 63 });

// commentary notes
Rc(1033, 10, 448, 136, { fill: 'none', stroke: YEL, lineWidth: 3 }, 14, 70);
['大盘围绕短期5日均线进行震荡反弹，并', '暂时企稳在5日均线和3200点关口之上。', '短期震荡格局仍会延续，3200点一线争', '夺也未结束。']
  .forEach((t, k) => T(1040, 34 + k * 31.5, t, YEL, 25, { bold: true, font: CN, z: 71 }));
els.push({ type: 'polygon', silent: true, z: 70, shape: { points: [[1481, 56.5], [1508, 56.5], [1508, 50.5], [1534, 60], [1508, 69.5], [1508, 63.5], [1481, 63.5]] }, style: { fill: 'none', stroke: YEL, lineWidth: 2.5 } });
Ln(1282, 112.5, 1608, 112.5, YEL, 3, { z: 70 });
els.push({ type: 'polygon', silent: true, z: 70, shape: { points: [[1603, 106], [1640, 112.5], [1603, 119]] }, style: { fill: YEL } });
els.push({ type: 'ellipse', silent: true, z: 70, shape: { cx: 1571.7, cy: 56.7, rx: 38.8, ry: 30 }, style: { fill: 'none', stroke: YEL, lineWidth: 3 } });

T(1330, 615, 'KD指标继续缩口，震', YEL, 25, { bold: true, font: CN, z: 71 });
T(1330, 645, '荡走势延续', YEL, 25, { bold: true, font: CN, z: 71 });
els.push({ type: 'ellipse', silent: true, z: 70, shape: { cx: 1573, cy: 636.7, rx: 30.7, ry: 19.2 }, style: { fill: 'none', stroke: '#ff0000', lineWidth: 3 } });
T(1332, 736, 'MACD指标开口继续缩', YEL, 25, { bold: true, font: CN, z: 71 });
T(1332, 766, '小，短期调整未结束', YEL, 25, { bold: true, font: CN, z: 71 });
els.push({ type: 'ellipse', silent: true, z: 70, shape: { cx: 1576.7, cy: 796.7, rx: 29.2, ry: 18.7 }, style: { fill: 'none', stroke: '#ff0000', lineWidth: 3 } });

chart.setOption({ graphic: { elements: els } });
</script>
</body>
</html>
